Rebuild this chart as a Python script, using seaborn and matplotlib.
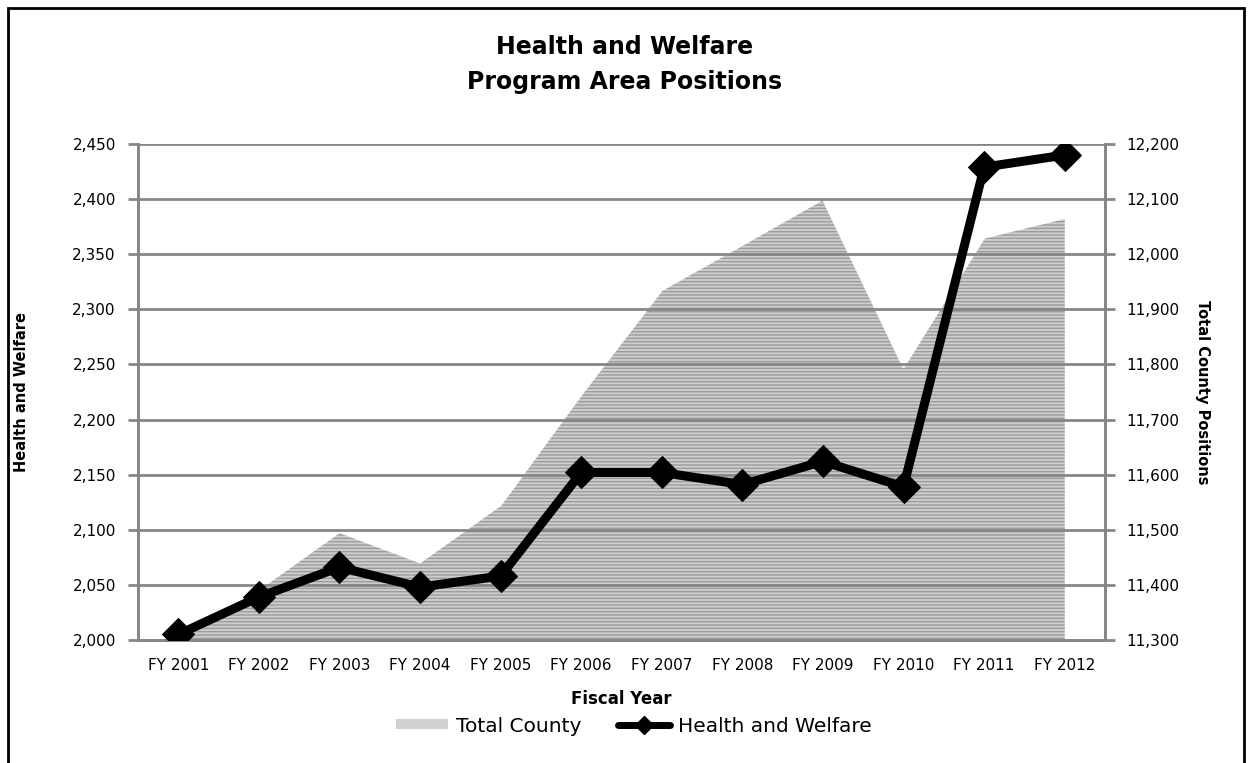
import numpy as np
import pandas as pd
import matplotlib
matplotlib.use("Agg")
import matplotlib.pyplot as plt
import seaborn as sns
from matplotlib.patches import Patch, Rectangle
from matplotlib.lines import Line2D
from matplotlib.ticker import FuncFormatter, MultipleLocator, FixedLocator

# ---- data ----
years = ["FY 2001", "FY 2002", "FY 2003", "FY 2004", "FY 2005", "FY 2006",
         "FY 2007", "FY 2008", "FY 2009", "FY 2010", "FY 2011", "FY 2012"]
health_welfare = [2005, 2039, 2066, 2048, 2058, 2152, 2152, 2141, 2162, 2139, 2429, 2440]
total_county = [11310, 11392, 11496, 11441, 11545, 11745, 11935, 12017, 12100, 11795, 12030, 12066]

title_lines = ["Health and Welfare", "Program Area Positions"]

sns.set_theme(style="white")
plt.rcParams['font.family'] = ['DejaVu Sans']
plt.rcParams['text.color'] = 'black'
plt.rcParams['axes.labelcolor'] = 'black'
plt.rcParams['xtick.color'] = 'black'
plt.rcParams['ytick.color'] = 'black'

df = pd.DataFrame({"pos": np.arange(len(years)), "year": years,
                   "hw": health_welfare, "tc": total_county})

fig = plt.figure(figsize=(12.5, 7.63), dpi=100)
ax = fig.add_axes([138/1250, 1-640/763, (1105-138)/1250, (640-144)/763])
ax2 = ax.twinx()
ax.set_zorder(ax2.get_zorder() + 1)
ax.patch.set_visible(False)

grid_c = "#878787"

# area on secondary axis
ax2.fill_between(df["pos"], 11300, df["tc"], facecolor="#cdcdcd",
                 hatch="-----", edgecolor="#9c9c9c", linewidth=0, zorder=1)
ax2.plot(df["pos"], df["tc"], color="white", lw=1.5, zorder=2)
ax2.set_ylim(11300, 12200)
ax2.yaxis.set_major_locator(MultipleLocator(100))

# gridlines on primary axis
ax.set_ylim(2000, 2450)
ax.yaxis.set_major_locator(MultipleLocator(50))
for v in np.arange(2050, 2451, 50):
    ax.axhline(v, color=grid_c, lw=2, zorder=1)

sns.lineplot(data=df, x="pos", y="hw", ax=ax, color="black", lw=6.5,
             marker="D", markersize=16, markeredgecolor="black", zorder=5,
             legend=False)

ax.set_xlim(-0.5, len(years) - 0.5)
ax.set_xticks(df["pos"])
ax.set_xticklabels(years)
ax.xaxis.set_minor_locator(FixedLocator(np.arange(-0.5, len(years), 1.0)))

fmt = FuncFormatter(lambda v, p: f"{int(round(v)):,}")
ax.yaxis.set_major_formatter(fmt)
ax2.yaxis.set_major_formatter(fmt)

for a in (ax, ax2):
    for s in a.spines.values():
        s.set_color(grid_c)
        s.set_linewidth(2)
    a.spines["top"].set_visible(False)

ax.tick_params(axis="x", which="major", length=0, pad=13, labelsize=11,
               labelcolor="black")
ax.tick_params(axis="x", which="minor", length=6, width=2, color=grid_c,
               direction="out")
ax.tick_params(axis="y", length=7, width=2, color=grid_c, direction="out",
               pad=9, labelsize=11, labelcolor="black", left=True)
ax2.tick_params(axis="y", length=7, width=2, color=grid_c, direction="out",
                pad=8, labelsize=11, labelcolor="black", right=True)

ax.set_xlabel("Fiscal Year", fontsize=12, fontweight="bold", color="black")
ax.xaxis.set_label_coords(0.5, -0.10)
ax.set_ylabel("Health and Welfare", fontsize=10.5, fontweight="bold",
              va="center", color="black")
ax.yaxis.set_label_coords(-0.12, 0.5)
ax2.set_ylabel("Total County Positions", fontsize=10.5, fontweight="bold",
               rotation=-90, va="center", color="black")
ax2.yaxis.set_label_coords(1.101, 0.5)

fig.text(0.5, 1-47/763, title_lines[0], ha="center", va="center",
         fontsize=17, fontweight="bold", color="black")
fig.text(0.5, 1-82/763, title_lines[1], ha="center", va="center",
         fontsize=17, fontweight="bold", color="black")

handles = [Patch(facecolor="#d0d0d0", edgecolor="none", label="Total County"),
           Line2D([0], [0], color="black", lw=5, marker="D", markersize=9,
                  label="Health and Welfare")]
leg = fig.legend(handles=handles, loc="center", bbox_to_anchor=(0.507, 1-726/763),
                 ncol=2, frameon=False, fontsize=14.5, handlelength=2.6,
                 handleheight=0.4, columnspacing=1.8, handletextpad=0.4)
for t in leg.get_texts():
    t.set_color("black")

fig.add_artist(Rectangle((8/1250, -0.1), 1236/1250, 1-8/763+0.1,
                         transform=fig.transFigure, fill=False,
                         edgecolor="black", lw=2))

fig.savefig("out.png", dpi=100)
